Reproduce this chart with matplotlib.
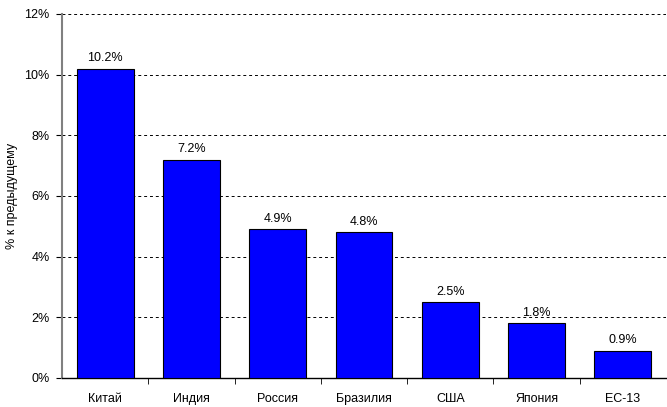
import matplotlib
matplotlib.use("Agg")
import matplotlib.pyplot as plt
from matplotlib.ticker import FuncFormatter, MultipleLocator

plt.rcParams['font.family'] = ['Liberation Sans', 'DejaVu Sans']

# Данные
countries = ["Китай", "Индия", "Россия", "Бразилия", "США", "Япония", "ЕС-13"]
growth = [10.2, 7.2, 4.9, 4.8, 2.5, 1.8, 0.9]

fig = plt.figure(figsize=(6.67, 4.07), dpi=100)
ax = fig.add_axes([62 / 667, 1 - 378 / 407, 604 / 667, 364 / 407])

x = range(len(countries))
ax.bar(x, growth, width=0.66, color="#0000FF", edgecolor="black", linewidth=0.8, zorder=3)

for i, v in enumerate(growth):
    ax.text(i, v + 0.15, f"{v:.1f}%", ha="center", va="bottom", fontsize=9, zorder=4)

ax.set_xlim(-0.5, len(countries) - 0.5)
ax.set_ylim(0, 12)
ax.yaxis.set_major_locator(MultipleLocator(2))
ax.yaxis.set_major_formatter(FuncFormatter(lambda v, p: f"{v:.0f}%"))
ax.grid(axis="y", color="black", linestyle=(0, (3, 3)), linewidth=0.7, zorder=0)

# подписи категорий без делений, деления между категориями
ax.set_xticks(list(x))
ax.set_xticklabels(countries, fontsize=9)
ax.tick_params(axis="x", length=0, pad=11)
ax.set_xticks([i + 0.5 for i in range(len(countries) - 1)], minor=True)
ax.tick_params(axis="x", which="minor", length=4, color="black", direction="out")
ax.tick_params(axis="y", labelsize=9, length=4, color="black", pad=5)

for s in ["top", "right"]:
    ax.spines[s].set_visible(False)
ax.spines["left"].set_color("#808080")
ax.spines["left"].set_linewidth(1.5)
ax.spines["bottom"].set_color("black")
ax.spines["bottom"].set_linewidth(1)

ax.set_ylabel("% к предыдущему", fontsize=9)
ax.yaxis.set_label_coords((18 - 62) / 604, 0.5)

plt.savefig("out.png", dpi=100)
